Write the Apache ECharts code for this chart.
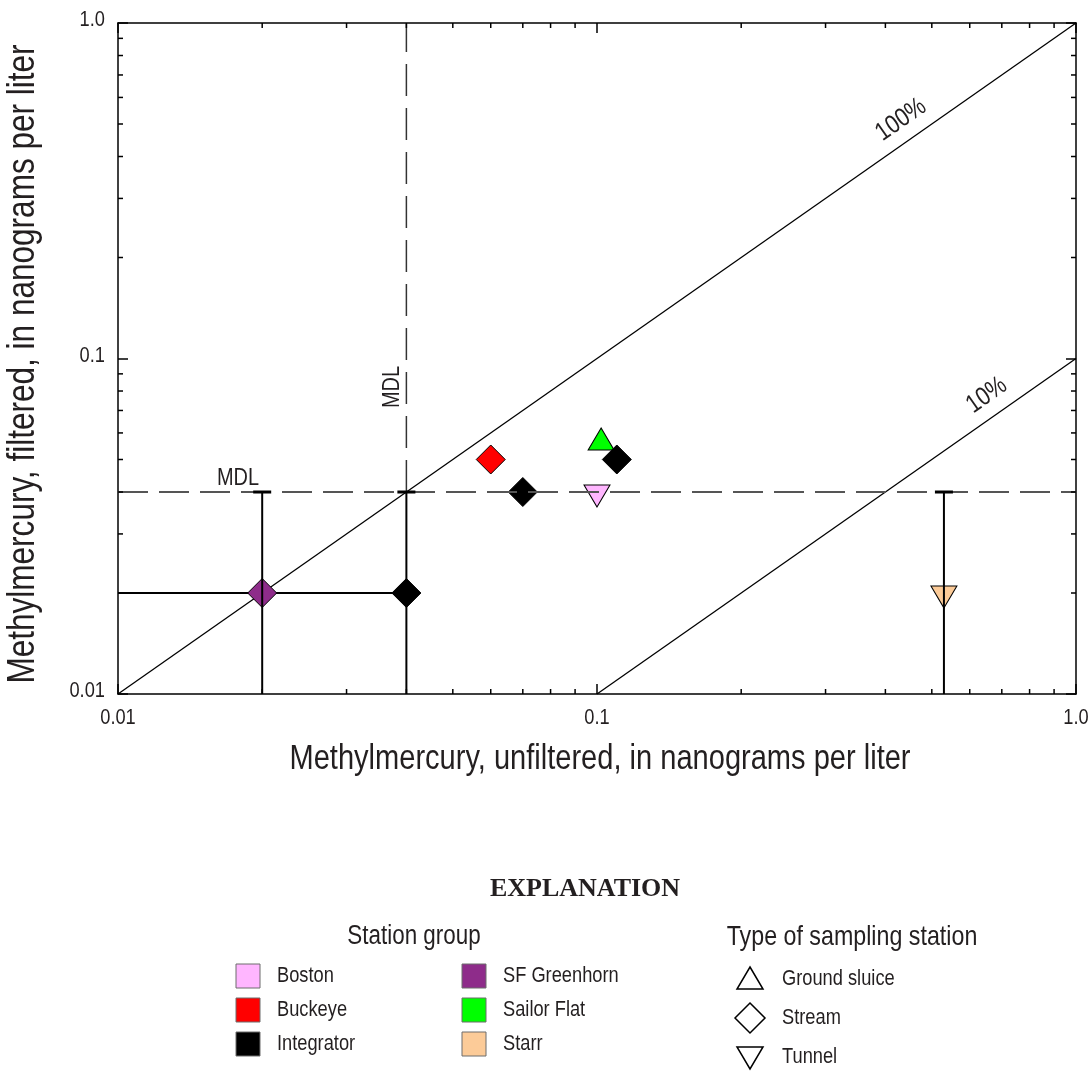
<!DOCTYPE html>
<html>
<head>
<meta charset="utf-8">
<script src="https://cdn.jsdelivr.net/npm/echarts@6/dist/echarts.min.js"></script>
<style>
html,body{margin:0;padding:0;background:#fff;}
#chart{width:1089px;height:1072px;}
</style>
</head>
<body>
<div id="chart"></div>
<script>
// ---------------- DATA ----------------
const stationGroups = ['Boston', 'Buckeye', 'Integrator', 'SF Greenhorn', 'Sailor Flat', 'Starr'];
const groupColors   = ['#FFB6FF', '#FF0000', '#000000', '#8E2C8A', '#00FF00', '#FCCB98'];
const stationTypes  = ['Ground sluice', 'Stream', 'Tunnel'];

const pointGroup  = ['SF Greenhorn', 'Integrator', 'Buckeye', 'Integrator', 'Sailor Flat', 'Integrator', 'Boston', 'Starr'];
const pointType   = ['Stream', 'Stream', 'Stream', 'Stream', 'Ground sluice', 'Stream', 'Tunnel', 'Tunnel'];
const unfiltered  = [0.02, 0.04, 0.06, 0.07, 0.102, 0.11, 0.10, 0.53];
const filtered    = [0.02, 0.02, 0.05, 0.04, 0.056, 0.05, 0.04, 0.02];

const mdl = 0.04;                       // method detection limit (both axes)
const verticalRanges   = [[0.02, 0.01, 0.04], [0.04, 0.01, 0.04], [0.53, 0.01, 0.04]]; // [x, yLow, yHigh]
const horizontalRanges = [[0.01, 0.04, 0.02]];                                         // [xLow, xHigh, y]
const ratioValues = [1, 0.1];
const ratioLabels = ['100%', '10%'];

const axisMin = 0.01, axisMax = 1;
const majorTickValues = [0.01, 0.1, 1];
const majorTickLabels = ['0.01', '0.1', '1.0'];
const minorTickValues = [0.02,0.03,0.04,0.05,0.06,0.07,0.08,0.09,0.2,0.3,0.4,0.5,0.6,0.7,0.8,0.9];

const xTitle = 'Methylmercury, unfiltered, in nanograms per liter';
const yTitle = 'Methylmercury, filtered, in nanograms per liter';

// ---------------- STYLE / LAYOUT ----------------
const FONT = '"Liberation Sans", Arial, sans-serif';
const SX = 0.83;                 // horizontal squeeze to imitate a condensed face
const TXT = '#231f20';
const G = {left: 118, top: 23, right: 13, bottom: 378};

const annotations = [
  {text: ratioLabels[0], at: [0.457, 0.457 * ratioValues[0]], lineIdx: 0, gap: 21, size: 26},
  {text: ratioLabels[1], at: [0.69, 0.69 * ratioValues[1]], lineIdx: 1, gap: 21, size: 26},
  {text: 'MDL', at: [0.0178, mdl], deg: 0, gap: 14, size: 24},
  {text: 'MDL', at: [mdl, 0.0822], deg: 90, gap: 14, size: 24}
];

const chart = echarts.init(document.getElementById('chart'), null, {renderer: 'canvas'});

function axisCommon(pos) {
  return {
    type: 'log', logBase: 10, min: axisMin, max: axisMax, position: pos, gridIndex: 0,
    axisLine: {show: true, onZero: false, lineStyle: {color: '#000', width: 1.5}},
    axisTick: {show: true, inside: true, length: 10, lineStyle: {color: '#000', width: 1.5}},
    splitLine: {show: false},
    axisLabel: {show: false}
  };
}

const typeSymbol = {'Ground sluice': 'triangle', 'Stream': 'diamond', 'Tunnel': 'triangle'};

const scatterData = unfiltered.map((x, i) => {
  const t = pointType[i];
  const col = groupColors[stationGroups.indexOf(pointGroup[i])];
  const tri = t !== 'Stream';
  return {
    value: [x, filtered[i]],
    symbol: typeSymbol[t],
    symbolSize: tri ? [26, 22] : [29, 29],
    symbolRotate: t === 'Tunnel' ? 180 : 0,
    symbolOffset: t === 'Tunnel' ? [0, 4] : (t === 'Ground sluice' ? [0, -4] : [0, 0]),
    itemStyle: {color: col, borderColor: '#000', borderWidth: 1, opacity: 1}
  };
});

function txt(x, y, text, size, extra) {
  return Object.assign({type: 'text', x: x, y: y, scaleX: SX,
    style: Object.assign({text: text, fontFamily: FONT, fontSize: size, fill: TXT, align: 'center', verticalAlign: 'middle'}, extra && extra.style || {})},
    extra && extra.el || {});
}

const series = [];

// ratio lines (100%, 10%)
ratioValues.forEach((r, i) => {
  series.push({
    type: 'line', name: ratioLabels[i], data: [[axisMin / r, axisMin], [axisMax, axisMax * r]],
    symbol: 'none', silent: true, z: 2, clip: true,
    lineStyle: {color: '#000', width: 1.3}
  });
});

// MDL dashed lines
series.push({
  type: 'line', data: [[axisMin, mdl], [axisMax, mdl]], symbol: 'none', z: 6, silent: true,
  lineStyle: {color: '#555', width: 1.8, type: [30, 11]}
});
series.push({
  type: 'line', data: [[mdl, mdl], [mdl, axisMax]], symbol: 'none', z: 6, silent: true,
  lineStyle: {color: '#333', width: 1.5, type: [32, 12]}
});

// vertical range bars with caps
series.push({
  type: 'custom', z: 7, silent: true, data: verticalRanges,
  renderItem: (params, api) => {
    const lo = api.coord([api.value(0), api.value(1)]);
    const hi = api.coord([api.value(0), api.value(2)]);
    return {type: 'group', children: [
      {type: 'line', shape: {x1: lo[0], y1: lo[1], x2: hi[0], y2: hi[1]}, style: {stroke: '#000', lineWidth: 2}},
      {type: 'line', shape: {x1: hi[0] - 9, y1: hi[1], x2: hi[0] + 9, y2: hi[1]}, style: {stroke: '#000', lineWidth: 3}}
    ]};
  }
});
// horizontal range bars
series.push({
  type: 'custom', z: 3, silent: true, data: horizontalRanges,
  renderItem: (params, api) => {
    const a = api.coord([api.value(0), api.value(2)]);
    const b = api.coord([api.value(1), api.value(2)]);
    return {type: 'line', shape: {x1: a[0], y1: a[1], x2: b[0], y2: b[1]}, style: {stroke: '#000', lineWidth: 2}};
  }
});

// points
series.push({type: 'scatter', z: 5, data: scatterData, silent: true});

// minor ticks on all four sides
series.push({
  type: 'custom', z: 8, silent: true, data: minorTickValues.map(v => [v, v]),
  renderItem: (params, api) => {
    const v = api.value(0), L = 5;
    const b = api.coord([v, axisMin]), t = api.coord([v, axisMax]);
    const l = api.coord([axisMin, v]), r = api.coord([axisMax, v]);
    const st = {stroke: '#000', lineWidth: 1.5};
    return {type: 'group', children: [
      {type: 'line', shape: {x1: b[0], y1: b[1], x2: b[0], y2: b[1] - L}, style: st},
      {type: 'line', shape: {x1: t[0], y1: t[1], x2: t[0], y2: t[1] + L}, style: st},
      {type: 'line', shape: {x1: l[0], y1: l[1], x2: l[0] + L, y2: l[1]}, style: st},
      {type: 'line', shape: {x1: r[0], y1: r[1], x2: r[0] - L, y2: r[1]}, style: st}
    ]};
  }
});

// major tick labels (both axes)
series.push({
  type: 'custom', z: 8, silent: true, data: majorTickValues.map(v => [v, v]),
  renderItem: (params, api) => {
    const v = api.value(0), lab = majorTickLabels[params.dataIndex];
    const b = api.coord([v, axisMin]), l = api.coord([axisMin, v]);
    return {type: 'group', children: [
      txt(b[0], b[1] + 24, lab, 22),
      txt(l[0] - 13, l[1] - 3, lab, 22, {style: {align: 'right'}})
    ]};
  }
});

// annotations
series.push({
  type: 'custom', z: 8, silent: true, data: annotations.map(a => a.at),
  renderItem: (params, api) => {
    const a = annotations[params.dataIndex];
    let rot;
    if (a.lineIdx !== undefined) {
      const r = ratioValues[a.lineIdx];
      const p1 = api.coord([axisMin / r, axisMin]), p2 = api.coord([axisMax, axisMax * r]);
      rot = Math.atan2(-(p2[1] - p1[1]), p2[0] - p1[0]);
    } else {
      rot = a.deg * Math.PI / 180;
    }
    const p = api.coord([api.value(0), api.value(1)]);
    const x = p[0] - Math.sin(rot) * a.gap, y = p[1] - Math.cos(rot) * a.gap;
    return txt(x, y, a.text, a.size, {el: {rotation: rot}});
  }
});

// ---------------- LEGEND / TITLES (graphic) ----------------
const graphics = [];
graphics.push(txt(600, 759, xTitle, 35));
graphics.push(txt(24, 364, yTitle, 38, {el: {rotation: Math.PI / 2}}));
graphics.push({type: 'text', x: 585, y: 889, style: {text: 'EXPLANATION', font: 'bold 26px "Liberation Serif", "DejaVu Serif", serif', fill: TXT, align: 'center', verticalAlign: 'middle'}});
graphics.push(txt(414, 937, 'Station group', 27));
graphics.push(txt(852, 937, 'Type of sampling station', 28));

stationGroups.forEach((g, i) => {
  const col = Math.floor(i / 3), row = i % 3;
  const sx = col === 0 ? 236 : 462;
  const cy = 976 + row * 34;
  graphics.push({type: 'rect', shape: {x: sx, y: cy - 12, width: 24, height: 24},
    style: {fill: groupColors[i], stroke: '#6d6d6d', lineWidth: 1}});
  graphics.push(txt(sx + 41, cy, g, 22, {style: {align: 'left'}}));
});

stationTypes.forEach((t, i) => {
  const cx = 750, cy = 979 + i * 39;
  let pts;
  if (t === 'Ground sluice') pts = [[cx, cy - 12], [cx + 13, cy + 10], [cx - 13, cy + 10]];
  else if (t === 'Stream') pts = [[cx, cy - 15], [cx + 15, cy], [cx, cy + 15], [cx - 15, cy]];
  else pts = [[cx - 13, cy - 10], [cx + 13, cy - 10], [cx, cy + 12]];
  graphics.push({type: 'polygon', shape: {points: pts}, style: {fill: '#fff', stroke: '#000', lineWidth: 1.5}});
  graphics.push(txt(782, cy, t, 22, {style: {align: 'left'}}));
});

chart.setOption({
  animation: false,
  backgroundColor: '#fff',
  grid: G,
  xAxis: [axisCommon('bottom'), axisCommon('top')],
  yAxis: [axisCommon('left'), axisCommon('right')],
  series: series,
  graphic: graphics
});
</script>
</body>
</html>
